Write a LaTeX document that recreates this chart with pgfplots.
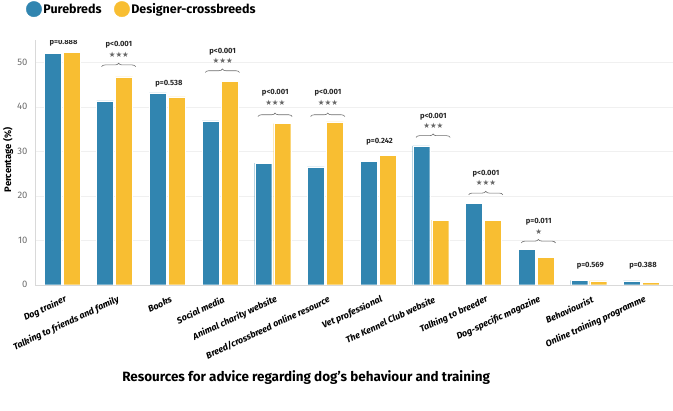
\documentclass[border=0pt]{standalone}
\usepackage{pgfplots}
\pgfplotsset{compat=1.18}
\usepackage{fontspec}
\setmainfont{Fira Sans}
\newfontfamily\symfont{DejaVu Sans}
\usetikzlibrary{decorations.pathreplacing}
\definecolor{pblue}{HTML}{3185B0}
\definecolor{dyel}{HTML}{F8BE32}
\begin{document}
\begin{tikzpicture}
\begin{axis}[
  scale only axis, width=638bp, height=244.7bp,
  xmin=-0.513, xmax=11.6, ymin=0, ymax=55,
  ybar=2bp, bar width=17bp,
  axis x line*=bottom, axis y line*=left,
  axis line style={gray!30},
  xtick={0,...,11},
  xticklabels={Dog trainer,Talking to friends and family,Books,Social media,Animal charity website,Breed/crossbreed online resource,Vet professional,The Kennel Club website,Talking to breeder,Dog-specific magazine,Behaviourist,Online training programme},
  xticklabel style={font=\fontsize{9}{10}\selectfont\bfseries\itshape, inner sep=0pt, xshift=4bp, yshift=-10bp, rotate=25, anchor=east},
  xtick style={draw=none}, ytick={0,10,...,50}, ytick style={draw=none},
  yticklabel style={font=\fontsize{9.5}{11}\selectfont, text=gray!85!black, xshift=-4bp},
  /pgf/number format/assume math mode=true,
  ymajorgrids, grid style={gray!12},
  ylabel={Percentage (\%)},
  ylabel style={font=\fontsize{9.5}{11}\selectfont\bfseries, at={(axis description cs:-0.042,0.51)}, anchor=center},
  xlabel={Resources for advice regarding dog’s behaviour and training},
  xlabel style={font=\fontsize{13.5}{15}\selectfont\bfseries, at={(axis description cs:0.425,-0.381)}, anchor=center},
  legend columns=2,
  legend style={draw=none, fill=none, inner sep=0pt, outer sep=0pt, at={(axis description cs:-0.014,1.1586)}, anchor=north west, font=\fontsize{12.5}{14}\selectfont\bfseries, nodes={inner sep=1.5bp}, /tikz/every even column/.append style={column sep=11bp}},
]
\addplot[fill=pblue, draw=white, line width=0.4pt, legend image code/.code={\fill[pblue] (0bp,0bp) circle (7.7bp);}] coordinates {
(0,52.0) (1,41.3) (2,43.1) (3,36.8) (4,27.3) (5,26.5) (6,27.7) (7,31.2) (8,18.3) (9,7.9) (10,1.0) (11,0.85)};
\addplot[fill=dyel, draw=white, line width=0.4pt, legend image code/.code={\fill[dyel] (0bp,0bp) circle (7.7bp);}] coordinates {
(0,52.2) (1,46.7) (2,42.2) (3,45.7) (4,36.2) (5,36.6) (6,29.1) (7,14.5) (8,14.5) (9,6.2) (10,0.85) (11,0.6)};
\legend{Purebreds,Designer-crossbreeds}
\tikzset{pt/.style={font=\fontsize{7.6}{8}\selectfont\bfseries, text=black!85, inner sep=0pt}}
\tikzset{st/.style={font=\symfont\fontsize{7.5}{8}\selectfont, text=gray!80!black, inner sep=0pt}}
\tikzset{br/.style={draw=gray!85!black, line width=0.6pt, decorate, decoration={brace, amplitude=3.5bp}}}
% non-significant
\node[pt] at (axis cs:0.03,54.3) {p=0.888};
\node[pt] at (axis cs:2.03,45.1) {p=0.538};
\node[pt] at (axis cs:6.03,32.1) {p=0.242};
\node[pt] at (axis cs:10.03,4.35) {p=0.569};
\node[pt] at (axis cs:11.03,4.3) {p=0.388};
% significant
\node[pt] at (axis cs:1.08,53.9) {p<0.001};
\node[st] at (axis cs:1.08,51.6) {★★★};
\draw[br] (axis cs:0.75,49.0) -- (axis cs:1.40,49.0);
\node[pt] at (axis cs:3.05,52.4) {p<0.001};
\node[st] at (axis cs:3.05,50.3) {★★★};
\draw[br] (axis cs:2.72,47.7) -- (axis cs:3.37,47.7);
\node[pt] at (axis cs:4.05,43.2) {p<0.001};
\node[st] at (axis cs:4.05,40.8) {★★★};
\draw[br] (axis cs:3.72,37.8) -- (axis cs:4.37,37.8);
\node[pt] at (axis cs:5.05,43.2) {p<0.001};
\node[st] at (axis cs:5.05,40.8) {★★★};
\draw[br] (axis cs:4.72,37.8) -- (axis cs:5.37,37.8);
\node[pt] at (axis cs:7.05,37.7) {p<0.001};
\node[st] at (axis cs:7.05,35.7) {★★★};
\draw[br] (axis cs:6.72,33.1) -- (axis cs:7.37,33.1);
\node[pt] at (axis cs:8.05,25.0) {p<0.001};
\node[st] at (axis cs:8.05,22.8) {★★★};
\draw[br] (axis cs:7.72,20.2) -- (axis cs:8.37,20.2);
\node[pt] at (axis cs:9.05,14.2) {p=0.011};
\node[st] at (axis cs:9.05,11.9) {★};
\draw[br] (axis cs:8.72,9.4) -- (axis cs:9.37,9.4);
\coordinate (O) at (rel axis cs:0,0);
\end{axis}
\pgfresetboundingbox
\path[use as bounding box] ([xshift=-35bp,yshift=-126.3bp]O) rectangle ([xshift=638bp,yshift=284.7bp]O);
\end{tikzpicture}
\end{document}
